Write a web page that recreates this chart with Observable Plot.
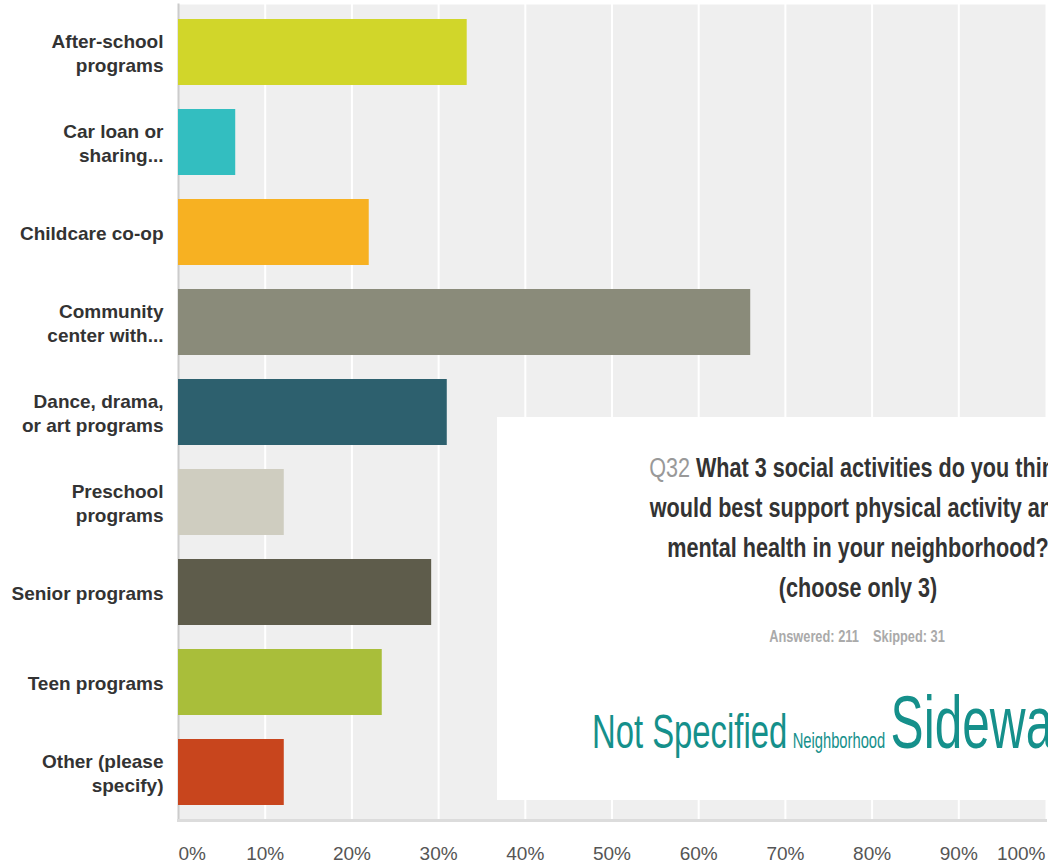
<!DOCTYPE html>
<html>
<head>
<meta charset="utf-8">
<script src="https://cdn.jsdelivr.net/npm/d3@7"></script>
<script src="https://cdn.jsdelivr.net/npm/@observablehq/plot@0.6"></script>
<style>
  html, body { margin: 0; padding: 0; background: #fff; overflow: hidden; width: 1048px; height: 867px; }
  #wrap { position: relative; width: 1048px; height: 867px; overflow: hidden; }
  #box { position: absolute; left: 497px; top: 417px; width: 720px; height: 383px; background: #fff; }
  #title { position: absolute; left: 0; top: 31px; width: 720px; text-align: center;
    font-family: "Liberation Sans", Arial, sans-serif;
    font-weight: bold; font-size: 27px; line-height: 40px; color: #333; white-space: nowrap;
    transform: scaleX(0.8); transform-origin: 365px 0; }
  #title .q { color: #999; font-weight: normal; }
  #stats { position: absolute; left: 0; top: 211px; width: 720px; text-align: center;
    font-family: "Liberation Sans", Arial, sans-serif;
    font-weight: bold; font-size: 16px; color: #aaa; white-space: nowrap;
    transform: scaleX(0.8); transform-origin: 360px 0; }
  #cloud { position: absolute; left: 95px; top: 263px; white-space: nowrap; color: #15908b;
    font-family: "Liberation Sans", Arial, sans-serif; transform: scaleX(0.67); transform-origin: 0 0; }
</style>
</head>
<body>
<div id="wrap">
  <div id="chart"></div>
  <div id="box">
    <div id="title"><span class="q">Q32</span> What 3 social activities do you think<br>would best support physical activity and<br>mental health in your neighborhood?<br>(choose only 3)</div>
    <div id="stats">Answered: 211&nbsp;&nbsp;&nbsp;&nbsp;Skipped: 31</div>
    <div id="cloud"><span style="font-size:49px">Not Specified</span><span style="font-size:22px; margin-left:8px">Neighborhood</span><span style="font-size:74px; margin-left:8px">Sidewalks</span></div>
  </div>
</div>
<script>
const categories = [
  "After-school programs",
  "Car loan or sharing...",
  "Childcare co-op",
  "Community center with...",
  "Dance, drama, or art programs",
  "Preschool programs",
  "Senior programs",
  "Teen programs",
  "Other (please specify)"
];
const labels = [
  "After-school\nprograms",
  "Car loan or\nsharing...",
  "Childcare co-op",
  "Community\ncenter with...",
  "Dance, drama,\nor art programs",
  "Preschool\nprograms",
  "Senior programs",
  "Teen programs",
  "Other (please\nspecify)"
];
const values = [0.333, 0.066, 0.220, 0.660, 0.310, 0.122, 0.292, 0.235, 0.122];
const colors = ["#d1d62a", "#33bec0", "#f7b122", "#8a8b7a", "#2d606e", "#cfcdc0", "#5e5c4b", "#a9be3a", "#c8451d"];
const xTicks = [0, 0.1, 0.2, 0.3, 0.4, 0.5, 0.6, 0.7, 0.8, 0.9, 1];

const data = categories.map((c, i) => ({category: c, value: values[i]}));
const labelOf = new Map(categories.map((c, i) => [c, labels[i]]));
const pct = d => Math.round(d * 100) + "%";
const tickFont = {fontSize: 19, fill: "#555", fontFamily: "'Liberation Sans', Arial, sans-serif"};

const plot = Plot.plot({
  width: 1048,
  height: 867,
  marginLeft: 178,
  marginRight: 3,
  marginTop: 4,
  marginBottom: 47,
  style: {background: "transparent", fontFamily: "'Liberation Sans', Arial, sans-serif", overflow: "visible"},
  x: {domain: [0, 1]},
  y: {domain: categories, paddingInner: 0.27, paddingOuter: 0.143},
  color: {domain: categories, range: colors},
  marks: [
    Plot.frame({fill: "#efefef", stroke: null}),
    Plot.gridX(xTicks.slice(1, -1), {stroke: "#ffffff", strokeOpacity: 1, strokeWidth: 2}),
    Plot.frame({anchor: "left", stroke: "#cccccc", strokeWidth: 2}),
    Plot.frame({anchor: "bottom", stroke: "#dcdcdc", strokeWidth: 3}),
    Plot.barX(data, {y: "category", x: "value", fill: "category"}),
    Plot.axisY({tickSize: 0, tickPadding: 15, tickFormat: d => labelOf.get(d), fontSize: 19, fontWeight: "bold", fill: "#333", lineHeight: 1.27, label: null}),
    Plot.axisX(xTicks.slice(1, -1), {tickSize: 0, tickPadding: 26, tickFormat: pct, label: null, ...tickFont}),
    Plot.axisX([0], {tickSize: 0, tickPadding: 26, tickFormat: pct, label: null, textAnchor: "start", ...tickFont}),
    Plot.axisX([1], {tickSize: 0, tickPadding: 26, tickFormat: pct, label: null, textAnchor: "end", ...tickFont})
  ]
});
document.getElementById("chart").appendChild(plot);
</script>
</body>
</html>
